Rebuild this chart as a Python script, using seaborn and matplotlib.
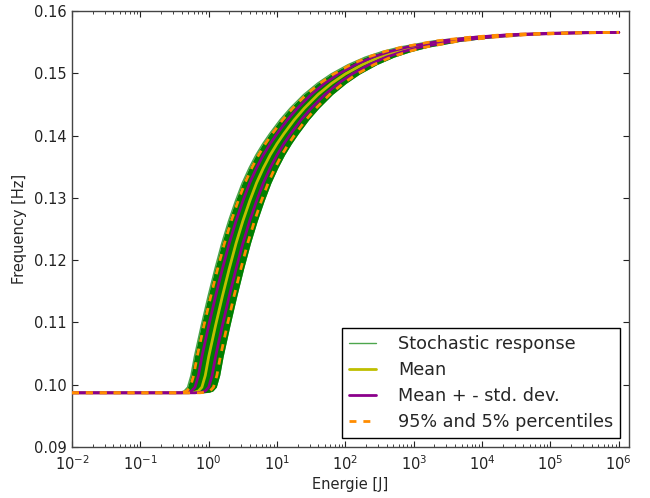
import numpy as np
import pandas as pd
import matplotlib
matplotlib.use("Agg")
import matplotlib.pyplot as plt
import matplotlib.ticker as mticker
import seaborn as sns

# Shared frequency levels [Hz] and, for each curve, the energy exponent (log10 E [J])
# at which that curve reaches the level.
freq_levels = [0.0987, 0.0987, 0.0988, 0.0990, 0.0996, 0.1015, 0.1045, 0.1070, 0.1095, 0.1142,
               0.1186, 0.1227, 0.1263, 0.1295, 0.1324, 0.1348, 0.1369, 0.1387, 0.1403, 0.1425,
               0.1444, 0.1466, 0.1484, 0.1499, 0.1514, 0.1526, 0.1535, 0.1542, 0.1552, 0.1558,
               0.1562, 0.1564, 0.15652, 0.15657]

mean_exp = [-2, -0.30, -0.20, -0.15, -0.10, -0.05, 0.00, 0.05, 0.10, 0.20,
            0.30, 0.40, 0.50, 0.60, 0.70, 0.80, 0.90, 1.00, 1.10, 1.25,
            1.40, 1.60, 1.80, 2.00, 2.25, 2.50, 2.75, 3.00, 3.50, 4.00,
            4.50, 5.00, 5.50, 6.00]
band_lo_exp = [-2, -0.51, -0.41, -0.36, -0.31, -0.26, -0.21, -0.16, -0.11, -0.01,
               0.09, 0.19, 0.29, 0.39, 0.49, 0.59, 0.69, 0.79, 0.89, 1.04,
               1.19, 1.39, 1.59, 1.79, 2.04, 2.29, 2.54, 2.79, 3.29, 3.79,
               4.29, 4.79, 5.29, 6.00]
band_hi_exp = [-2, -0.09, 0.01, 0.06, 0.11, 0.16, 0.21, 0.26, 0.31, 0.41,
               0.51, 0.61, 0.71, 0.81, 0.91, 1.01, 1.11, 1.21, 1.31, 1.46,
               1.61, 1.81, 2.01, 2.21, 2.46, 2.71, 2.96, 3.21, 3.71, 4.21,
               4.71, 5.21, 5.71, 6.00]
p5_exp = [-2, -0.47, -0.37, -0.32, -0.27, -0.22, -0.17, -0.12, -0.07, 0.03,
          0.13, 0.23, 0.33, 0.43, 0.53, 0.63, 0.73, 0.83, 0.93, 1.08,
          1.23, 1.43, 1.63, 1.83, 2.08, 2.33, 2.58, 2.83, 3.33, 3.83,
          4.33, 4.83, 5.33, 6.00]
p95_exp = [-2, -0.13, -0.03, 0.02, 0.07, 0.12, 0.17, 0.22, 0.27, 0.37,
           0.47, 0.57, 0.67, 0.77, 0.87, 0.97, 1.07, 1.17, 1.27, 1.42,
           1.57, 1.77, 1.97, 2.17, 2.42, 2.67, 2.92, 3.17, 3.67, 4.17,
           4.67, 5.17, 5.67, 6.00]
std_lo_exp = [-2, -0.40, -0.30, -0.25, -0.20, -0.15, -0.10, -0.05, 0.00, 0.10,
              0.20, 0.30, 0.40, 0.50, 0.60, 0.70, 0.80, 0.90, 1.00, 1.15,
              1.30, 1.50, 1.70, 1.90, 2.15, 2.40, 2.65, 2.90, 3.40, 3.90,
              4.40, 4.90, 5.40, 6.00]
std_hi_exp = [-2, -0.20, -0.10, -0.05, 0.00, 0.05, 0.10, 0.15, 0.20, 0.30,
              0.40, 0.50, 0.60, 0.70, 0.80, 0.90, 1.00, 1.10, 1.20, 1.35,
              1.50, 1.70, 1.90, 2.10, 2.35, 2.60, 2.85, 3.10, 3.60, 4.10,
              4.60, 5.10, 5.60, 6.00]

legend_labels = ["Stochastic response", "Mean", "Mean + - std. dev.", "95% and 5% percentiles"]
y_ticks = [0.09, 0.10, 0.11, 0.12, 0.13, 0.14, 0.15, 0.16]
x_ticks = [1e-2, 1e-1, 1e0, 1e1, 1e2, 1e3, 1e4, 1e5, 1e6]
x_label = "Energie [J]"
y_label = "Frequency [Hz]"

sns.set_style("ticks")
plt.rcParams["font.family"] = ["DejaVu Sans"]

fig = plt.figure(figsize=(6.5, 4.98), dpi=100)
ax = fig.add_axes([72 / 650, 1 - 447 / 498, 557 / 650, 436 / 498])

y = np.array(freq_levels)


def E(e):
    return np.power(10.0, np.array(e, dtype=float))


# stochastic response band
ax.fill_betweenx(y, E(band_lo_exp), E(band_hi_exp), color="#007f00", lw=0, zorder=1)


def line(exps, **kw):
    df = pd.DataFrame({"E": E(exps), "f": y})
    sns.lineplot(data=df, x="E", y="f", sort=False, estimator=None, ax=ax, **kw)


line(band_lo_exp, color="g", alpha=0.7, lw=1, label=legend_labels[0], zorder=2)
line(band_hi_exp, color="g", alpha=0.7, lw=1, zorder=2)
line(mean_exp, color="#bfbf00", lw=2, label=legend_labels[1], zorder=3)
line(std_lo_exp, color="#8b008b", lw=2, label=legend_labels[2], zorder=4)
line(std_hi_exp, color="#8b008b", lw=2, zorder=4)
line(p5_exp, color="#ff8c00", lw=2, ls=(0, (2.5, 2.5)), label=legend_labels[3], zorder=5)
line(p95_exp, color="#ff8c00", lw=2, ls=(0, (2.5, 2.5)), zorder=5)

ax.set_xscale("log")
ax.set_xlim(1e-2, 10 ** 6.149)
ax.set_ylim(0.09, 0.16)
ax.set_yticks(y_ticks)
ax.set_yticklabels([f"{t:.2f}" for t in y_ticks])
ax.set_xticks(x_ticks)
ax.xaxis.set_minor_locator(mticker.LogLocator(base=10, subs=np.arange(2, 10), numticks=100))
ax.xaxis.set_minor_formatter(mticker.NullFormatter())

ax.set_xlabel(x_label, fontsize=10.5, labelpad=3)
ax.set_ylabel(y_label, fontsize=10.5, labelpad=5)
ax.tick_params(which="both", direction="in", top=True, right=True, colors="#222222",
               labelsize=10.5)
ax.tick_params(axis="y", pad=4)
ax.tick_params(axis="x", pad=5)
ax.tick_params(which="major", length=4.5, width=0.8)
ax.tick_params(which="minor", length=2.5, width=0.6)
for s in ax.spines.values():
    s.set_color("#444444")
    s.set_linewidth(1.0)

leg = ax.legend(loc="lower right", fontsize=12.7, frameon=True, fancybox=False,
                handlelength=1.5, handletextpad=1.25, labelspacing=0.45,
                borderpad=0.4, borderaxespad=0.5)
leg.get_frame().set_edgecolor("black")
leg.get_frame().set_linewidth(1.0)
leg.get_frame().set_alpha(1)

fig.savefig("out.png", dpi=100)
